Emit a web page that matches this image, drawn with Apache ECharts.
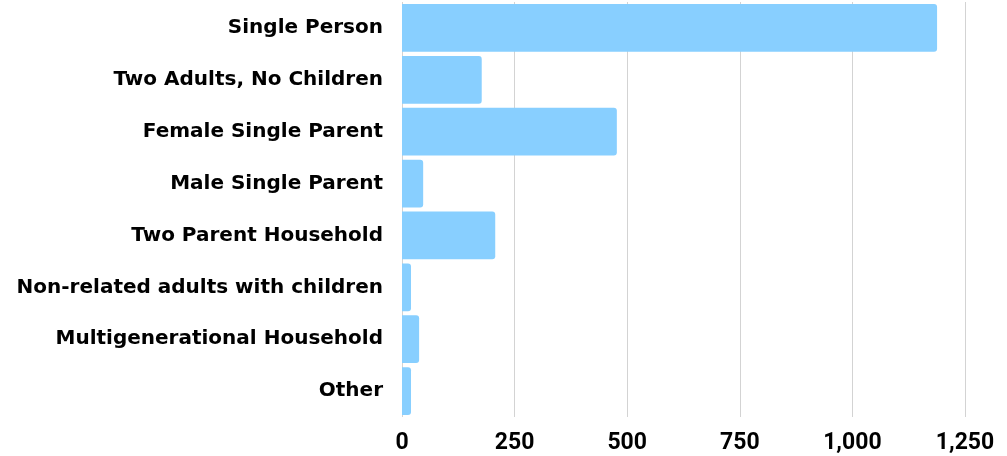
<!DOCTYPE html>
<html>
<head>
<meta charset="utf-8">
<script src="https://cdn.jsdelivr.net/npm/echarts@6/dist/echarts.min.js"></script>
<style>
  html, body { margin: 0; padding: 0; background: #fff; }
  #chart { width: 1007px; height: 456px; }
</style>
</head>
<body>
<div id="chart"></div>
<script>
// household types, top to bottom as in the picture
const categories = [
  'Single Person',
  'Two Adults, No Children',
  'Female Single Parent',
  'Male Single Parent',
  'Two Parent Household',
  'Non-related adults with children',
  'Multigenerational Household',
  'Other'
]
const households = [1188, 177, 477, 47, 207, 20, 38, 20]
const xTicks = [0, 250, 500, 750, 1000, 1250]

// wide font for the names, narrower one for the numbers
const labelFont = 'DejaVu Sans'
const numFont = 'Roboto'

const myChart = echarts.init(document.getElementById('chart'), null, {renderer: 'canvas'})
myChart.setOption({
  animation: false,
  grid: {
    left: 402,
    right: 42,
    top: 2,
    bottom: 39,
    containLabel: false
  },
  xAxis: {
    type: 'value',
    min: xTicks[0],
    max: xTicks[xTicks.length - 1],
    interval: 250,
    axisLine: {show: false},
    axisTick: {show: false},
    splitLine: {lineStyle: {color: '#d3d3d3', width: 1}},
    axisLabel: {
      margin: 15,
      fontFamily: numFont,
      fontWeight: 'bold',
      fontSize: 23,
      color: '#000',
      formatter: v => v.toLocaleString('en-US')
    }
  },
  yAxis: {
    type: 'category',
    data: categories,
    inverse: true,
    axisLine: {show: false},
    axisTick: {show: false},
    splitLine: {show: false},
    axisLabel: {
      margin: 19,
      fontFamily: labelFont,
      fontWeight: 'bold',
      fontSize: 20,
      color: '#000'
    }
  },
  series: [{
    type: 'bar',
    data: households,
    barCategoryGap: '8%',
    itemStyle: {
      color: '#88cfff',
      borderRadius: [0, 3, 3, 0]
    }
  }]
})
</script>
</body>
</html>
